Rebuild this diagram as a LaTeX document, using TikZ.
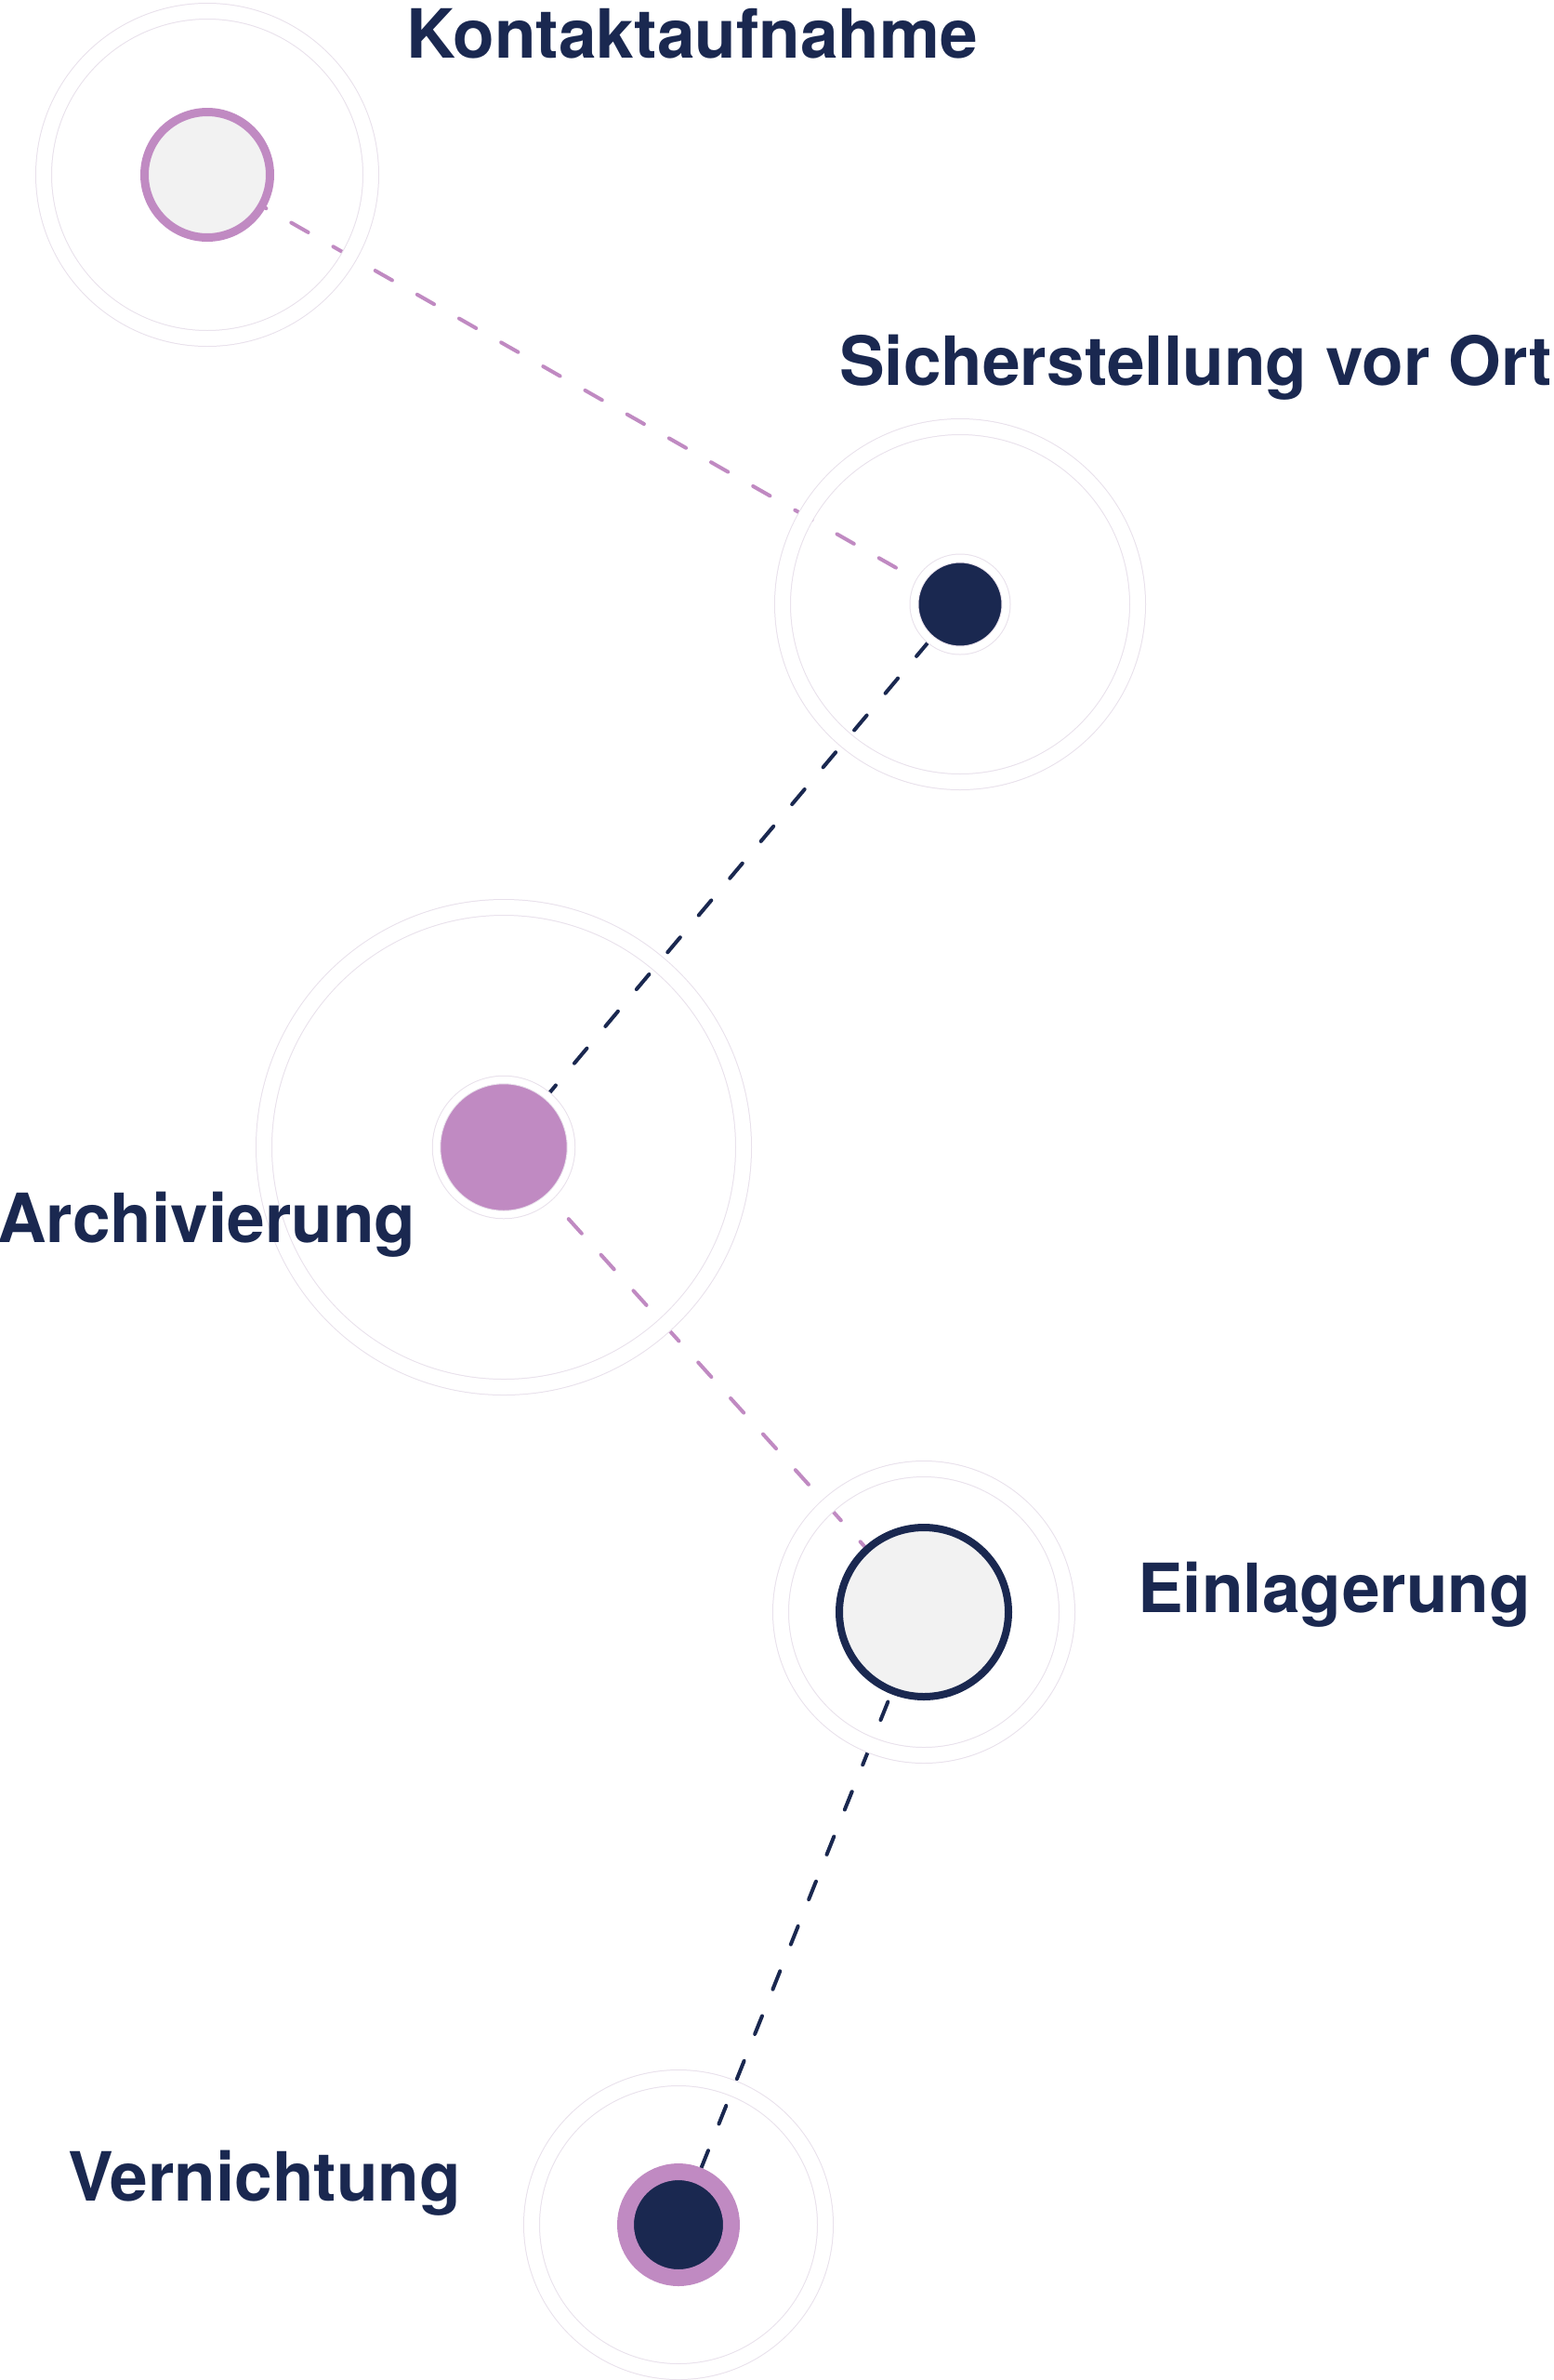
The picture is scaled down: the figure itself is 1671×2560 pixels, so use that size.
\documentclass[tikz,border=0pt]{standalone}
\usepackage{fontspec}
\setmainfont{TeX Gyre Heros}
\usetikzlibrary{shapes,positioning}
\definecolor{navy}{HTML}{1A2850}
\definecolor{lila}{HTML}{C08AC2}
\definecolor{hell}{HTML}{F2F2F2}
\definecolor{ring}{HTML}{E8E0EB}
\pgfdeclarelayer{background}
\pgfsetlayers{background,main}

\begin{document}
\begin{tikzpicture}[x=1pt,y=-1pt,
halo/.style={circle,inner sep=0pt,draw=ring,line width=1pt,
double=white,double distance=16pt}, % white band with thin rims
dot/.style={circle,inner sep=0pt}]

\tikzset{
  title/.style={font={\fontsize{73}{80}\selectfont\bfseries},text=navy,inner sep=0pt,anchor=base west},
  every edge/.append style = {line width=4pt,dash pattern=on 21pt off 31pt,line cap=round}
}
    \useasboundingbox (0,0) rectangle (1671,2560);

    \node[halo,minimum size=352pt] at (223,188) (kontaktring) {};
    \node[dot,minimum size=135pt,fill=hell,draw=lila,line width=9pt] at (223,188) (kontakt) {};
    \node[title] at (437,62) (kontakttext) {Kontaktaufnahme};

    \node[halo,minimum size=382pt] at (1033,650) (sicherungring) {};
    \node[dot,minimum size=99pt,fill=navy,draw=ring,line width=1pt,double=white,double distance=8pt] at (1033,650) (sicherung) {};
    \node[title] at (903,414) (sicherungtext) {Sicherstellung vor Ort};

    \node[halo,minimum size=516pt] at (542,1234) (archivring) {};
    \node[dot,minimum size=145pt,fill=lila,draw=ring,line width=1pt,double=white,double distance=7.5pt] at (542,1234) (archiv) {};
    \node[title] at (-3,1336) (archivtext) {Archivierung};

    \node[halo,minimum size=308pt] at (994,1734) (lagerring) {};
    \node[dot,minimum size=182pt,fill=hell,draw=navy,line width=8pt] at (994,1734) (lager) {};
    \node[title] at (1224,1734) (lagertext) {Einlagerung};

    \node[halo,minimum size=316pt] at (730,2393) (vernichtring) {};
    \node[dot,minimum size=114pt,fill=navy,draw=lila,line width=18pt] at (730,2393) (vernicht) {};
    \node[title] at (73,2367) (vernichttext) {Vernichtung};

    \begin{pgfonlayer}{background}
    \draw
        (kontakt.center) edge[lila] (sicherung.center)
        (sicherung.center) edge[navy] (archiv.center)
        (archiv.center) edge[lila] (lager.center)
        (lager.center) edge[navy] (vernicht.center);
    \end{pgfonlayer}

\end{tikzpicture}
\end{document}
